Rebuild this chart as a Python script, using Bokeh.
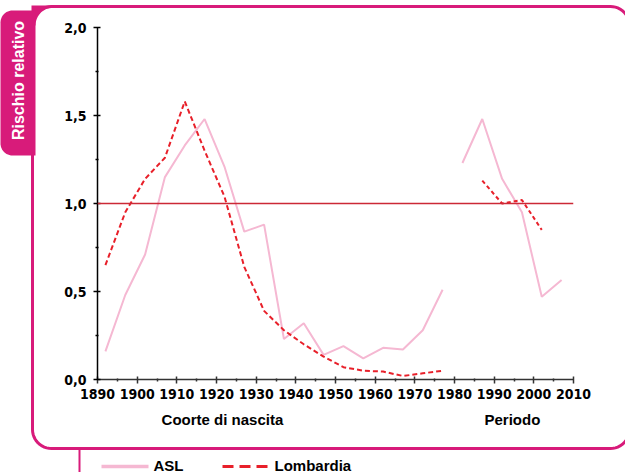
import math
from bokeh.plotting import figure
from bokeh.models import Range1d, FixedTicker, Span
from bokeh.core.properties import value
from bokeh.embed import file_html
from bokeh.resources import INLINE

# ---------------- data ----------------
cohort_years = [1892, 1897, 1902, 1907, 1912, 1917, 1922, 1927, 1932, 1937,
                1942, 1947, 1952, 1957, 1962, 1967, 1972, 1977]
asl_cohort = [0.16, 0.48, 0.71, 1.15, 1.33, 1.48, 1.21, 0.84, 0.88, 0.23,
              0.32, 0.14, 0.19, 0.12, 0.18, 0.17, 0.28, 0.51]
lomb_cohort = [0.65, 0.95, 1.14, 1.26, 1.58, 1.30, 1.04, 0.64, 0.39, 0.28,
               0.20, 0.13, 0.07, 0.05, 0.045, 0.02, 0.035, 0.05]

period_years = [1982, 1987, 1992, 1997, 2002, 2007]
asl_period = [1.23, 1.48, 1.14, 0.95, 0.47, 0.565]
lomb_period_years = [1987, 1992, 1997, 2002]
lomb_period = [1.13, 1.00, 1.02, 0.85]

reference_value = 1.0

x_ticks = [1890, 1900, 1910, 1920, 1930, 1940, 1950, 1960, 1970, 1980, 1990, 2000, 2010]
x_minor_ticks = [1895, 1905, 1915, 1925, 1935, 1945, 1955, 1965, 1975, 1985, 1995, 2005]
y_ticks = [0, 0.5, 1, 1.5, 2]
y_minor_ticks = [0.25, 0.75, 1.25, 1.75]
y_tick_labels = ["0,0", "0,5", "1,0", "1,5", "2,0"]

y_title = "Rischio relativo"
x_title_cohort = "Coorte di nascita"
x_title_period = "Periodo"
series_names = ["ASL", "Lombardia"]

# ---------------- style ----------------
MAGENTA = "#d81b7a"
PINK = "#f5b8d2"
RED = "#e8202a"
REFRED = "#cc2936"
NARROW = "'Liberation Sans Narrow', 'DejaVu Sans Condensed', sans-serif"
SANS = "'Liberation Sans', Arial, sans-serif"

W, H = 625, 472
FL, FR, FT, FB = 97, 573, 27, 379   # frame edges in canvas pixels
X0, X1, Y0, Y1 = 1890, 2010, 0, 2


def dx(px):
    return X0 + (px - FL) * (X1 - X0) / (FR - FL)


def dy(py):
    return Y0 + (FB - py) * (Y1 - Y0) / (FB - FT)


def rounded_rect(left, top, right, bottom, radii):
    # radii: top_left, top_right, bottom_right, bottom_left (pixels)
    tl, tr, br, bl = radii
    pts = []

    def corner(cx, cy, r, a0, a1, fallback):
        if r == 0:
            pts.append(fallback)
            return
        for k in range(13):
            a = math.radians(a0 + (a1 - a0) * k / 12)
            pts.append((cx + r * math.cos(a), cy - r * math.sin(a)))

    corner(left + tl, top + tl, tl, 180, 90, (left, top))
    corner(right - tr, top + tr, tr, 90, 0, (right, top))
    corner(right - br, bottom - br, br, 0, -90, (right, bottom))
    corner(left + bl, bottom - bl, bl, -90, -180, (left, bottom))
    pts.append(pts[0])
    return [dx(a) for a, _ in pts], [dy(b) for _, b in pts]


p = figure(width=W, height=H,
           x_range=Range1d(X0, X1), y_range=Range1d(Y0, Y1),
           min_border_left=FL, min_border_right=W - FR, min_border_top=FT,
           min_border_bottom=H - FB,
           output_backend="svg", toolbar_location=None)
p.outline_line_color = None
p.xgrid.visible = False
p.ygrid.visible = False

# ---------------- decorations (overlay level, not clipped to the frame) ----------------
fx, fy = rounded_rect(32, 6, 629, 448, (19, 19, 19, 19))
p.line(fx, fy, line_color=MAGENTA, line_width=3, level="overlay")

cx0, cy0, r = 53, 25, 18
arc_px = [(cx0 - r * math.sin(math.radians(t)), cy0 - r * math.cos(math.radians(t)))
          for t in range(0, 91, 6)]
corner_pts = [(31, 5), (53, 5)] + arc_px + [(31, 25)]
p.patch([dx(a) for a, _ in corner_pts], [dy(b) for _, b in corner_pts],
        fill_color=MAGENTA, line_color=None, level="overlay")

tx, ty = rounded_rect(0, 10, 35, 155, (12, 0, 0, 12))
p.patch(tx, ty, fill_color=MAGENTA, line_color=None, level="overlay")

p.text(x=[dx(18)], y=[dy(80)], text=[y_title], angle=math.pi / 2,
       text_align="center", text_baseline="middle", text_color="white",
       text_font=value(SANS), text_font_style="bold", text_font_size="16px",
       level="overlay")

p.line([dx(79), dx(79)], [dy(449), dy(480)], line_color=MAGENTA, line_width=2,
       level="overlay")

# axis titles
p.text(x=[1921.5, 1994.6], y=[dy(419), dy(419)], text=[x_title_cohort, x_title_period],
       text_align="center", text_baseline="middle", text_color="black",
       text_font=value(SANS), text_font_style="bold", text_font_size="15px",
       level="overlay")

# ---------------- data lines ----------------
p.add_layout(Span(location=reference_value, dimension="width",
                  line_color=REFRED, line_width=1.5))

p.line(cohort_years, asl_cohort, line_color=PINK, line_width=2)
p.line(period_years, asl_period, line_color=PINK, line_width=2)
p.line(cohort_years, lomb_cohort, line_color=RED, line_width=2, line_dash="5 3")
p.line(lomb_period_years, lomb_period, line_color=RED, line_width=2, line_dash="4 3")

# ---------------- legend (below the box) ----------------
p.line([dx(101), dx(148)], [dy(466), dy(466)], line_color=PINK, line_width=3.5,
       level="overlay")
p.line([dx(222), dx(268)], [dy(466), dy(466)], line_color=RED, line_width=3,
       line_dash="11 6", level="overlay")
p.text(x=[dx(153), dx(274)], y=[dy(465), dy(465)], text=series_names,
       text_align="left", text_baseline="middle", text_color="black",
       text_font=value(SANS), text_font_style="bold", text_font_size="15px",
       level="overlay")

# ---------------- axes ----------------
xa = p.xaxis[0]
xa.ticker = FixedTicker(ticks=x_ticks, minor_ticks=x_minor_ticks)
xa.axis_line_color = "#333333"
xa.axis_line_width = 1.5
xa.major_tick_line_color = "#333333"
xa.major_tick_line_width = 1.5
xa.major_tick_in = 3
xa.major_tick_out = 4
xa.minor_tick_line_color = "#333333"
xa.minor_tick_line_width = 1.5
xa.minor_tick_in = 1
xa.minor_tick_out = 2
xa.major_label_text_font = NARROW
xa.major_label_text_font_style = "bold"
xa.major_label_text_font_size = "14px"
xa.major_label_text_color = "black"
xa.major_label_standoff = 5

ya = p.yaxis[0]
ya.ticker = FixedTicker(ticks=y_ticks, minor_ticks=y_minor_ticks)
ya.major_label_overrides = dict(zip(y_ticks, y_tick_labels))
ya.axis_line_color = "black"
ya.axis_line_width = 1.5
ya.major_tick_line_color = "black"
ya.major_tick_line_width = 1.5
ya.major_tick_in = 3
ya.major_tick_out = 4
ya.minor_tick_line_color = "black"
ya.minor_tick_line_width = 1.5
ya.minor_tick_in = 1
ya.minor_tick_out = 2
ya.major_label_text_font = NARROW
ya.major_label_text_font_style = "bold"
ya.major_label_text_font_size = "14px"
ya.major_label_text_color = "black"
ya.major_label_standoff = 7

open("out.html", "w").write(file_html(p, INLINE))
